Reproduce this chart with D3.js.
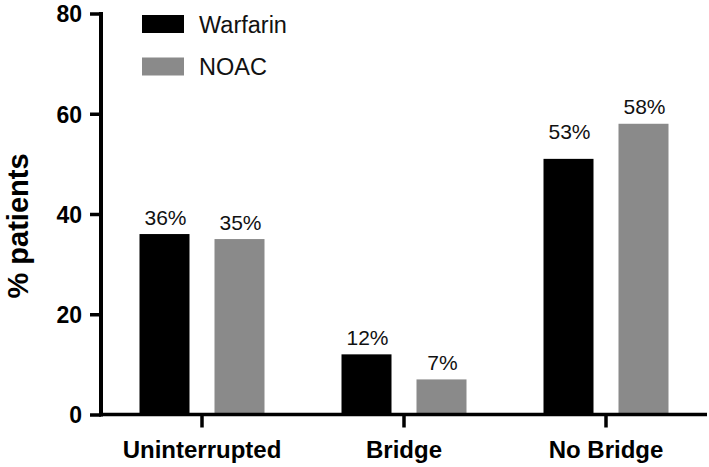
<!DOCTYPE html>
<html>
<head>
<meta charset="utf-8">
<script src="https://cdn.jsdelivr.net/npm/d3@7"></script>
<style>
  html, body { margin: 0; padding: 0; background: #fff; }
  svg { display: block; font-family: "Liberation Sans", Arial, sans-serif; }
</style>
</head>
<body>
<svg id="chart" width="709" height="467"></svg>
<script>
const categories = ["Uninterrupted", "Bridge", "No Bridge"];
const seriesNames = ["Warfarin", "NOAC"];
const warfarinValues = [36, 12, 51];
const noacValues = [35, 7, 58];
const warfarinLabels = ["36%", "12%", "53%"];
const noacLabels = ["35%", "7%", "58%"];
const warfarinLabelValues = [36, 12, 53];
const noacLabelValues = [35, 7, 58];
const yTicks = [0, 20, 40, 60, 80];
const colors = ["#000000", "#8a8a8a"];

const svg = d3.select("#chart");
const axisX = 101;
const y = d3.scaleLinear().domain([0, 80]).range([414.5, 13.5]);
const x0 = d3.scaleBand().domain(categories).range([axisX, 707]).padding(0);
const x1 = d3.scaleBand().domain(seriesNames).range([0, 125]).paddingInner(1/3).paddingOuter(0);
const groupOffset = (x0.bandwidth() - 125) / 2;

const rows = categories.map((c, i) => ({
  cat: c,
  items: [
    { s: seriesNames[0], v: warfarinValues[i], lab: warfarinLabels[i], lv: warfarinLabelValues[i] },
    { s: seriesNames[1], v: noacValues[i], lab: noacLabels[i], lv: noacLabelValues[i] }
  ]
}));

const g = svg.append("g");
const groups = g.selectAll("g.grp").data(rows).enter().append("g")
  .attr("transform", d => `translate(${x0(d.cat) + groupOffset},0)`);

groups.selectAll("rect").data(d => d.items).enter().append("rect")
  .attr("x", d => x1(d.s))
  .attr("width", x1.bandwidth())
  .attr("y", d => y(d.v))
  .attr("height", d => y(0) - y(d.v))
  .attr("fill", (d, i) => colors[i]);

groups.selectAll("text").data(d => d.items).enter().append("text")
  .attr("x", d => x1(d.s) + x1.bandwidth() / 2 + 1)
  .attr("y", d => y(d.lv) - 9.5)
  .attr("text-anchor", "middle")
  .attr("font-size", 21)
  .attr("fill", "#111")
  .text(d => d.lab);

// Y axis
const yAxis = d3.axisLeft(y).tickValues(yTicks).tickSize(11).tickPadding(8);
const yg = svg.append("g").attr("transform", `translate(${axisX},0)`).call(yAxis);
yg.select(".domain").attr("stroke", "#000").attr("stroke-width", 4)
  .attr("d", `M0,${y(80) - 1.5}V${y(0) + 2}`);
yg.selectAll(".tick line").attr("stroke", "#000").attr("stroke-width", 3.5);
yg.selectAll(".tick text").attr("font-size", 23).attr("font-weight", "bold")
  .attr("font-family", "Liberation Sans, Arial, sans-serif").attr("fill", "#000").attr("dy", "0.36em");

// X axis
const xAxis = d3.axisBottom(x0).tickSize(13).tickPadding(13);
const xg = svg.append("g").attr("transform", `translate(0,${y(0)})`).call(xAxis);
xg.select(".domain").attr("stroke", "#000").attr("stroke-width", 3.5)
  .attr("d", `M${axisX - 2},0H707`);
xg.selectAll(".tick line").attr("stroke", "#000").attr("stroke-width", 3.5);
xg.selectAll(".tick text").attr("font-size", 24).attr("font-weight", "bold")
  .attr("font-family", "Liberation Sans, Arial, sans-serif").attr("fill", "#000")
  .attr("dy", "0.71em");

// Y title
svg.append("text")
  .attr("transform", "translate(28,226) rotate(-90)")
  .attr("text-anchor", "middle")
  .attr("font-size", 29)
  .attr("font-weight", "bold")
  .attr("fill", "#000")
  .text("% patients");

// Legend
const legend = svg.append("g");
seriesNames.forEach((s, i) => {
  legend.append("rect")
    .attr("x", 142).attr("y", 15 + i * 42.5)
    .attr("width", 42).attr("height", 18)
    .attr("fill", colors[i]);
  legend.append("text")
    .attr("x", 199).attr("y", 33 + i * 42)
    .attr("font-size", 23.5)
    .attr("fill", "#111")
    .text(s);
});
</script>
</body>
</html>
